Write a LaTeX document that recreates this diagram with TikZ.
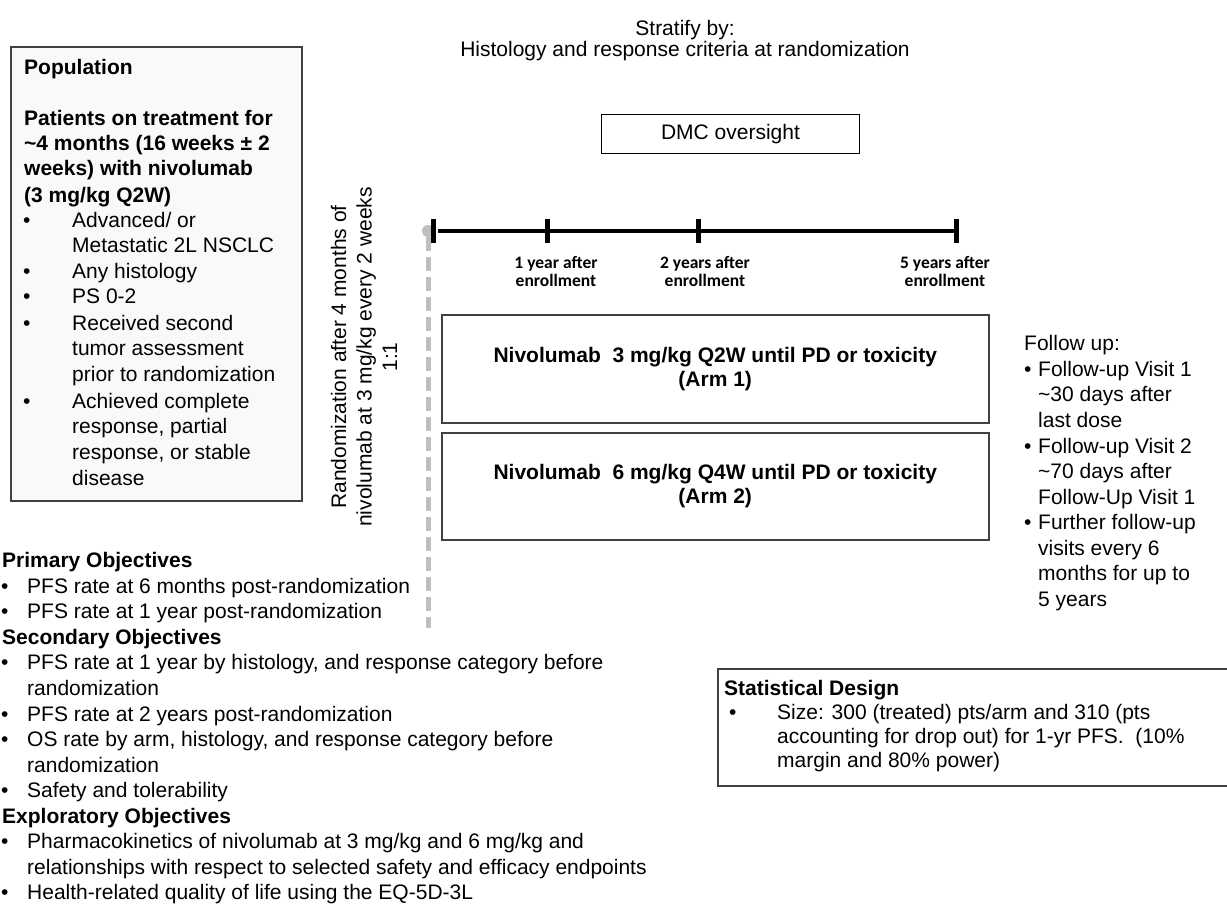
\documentclass[tikz,border=0pt]{standalone}
\usepackage{fontspec}
\setmainfont{Liberation Sans}
\newfontfamily\calfont{Carlito}
\definecolor{dashgray}{HTML}{BFBFBF}
\definecolor{boxgray}{HTML}{404040}
\definecolor{popfill}{HTML}{FAF9F7}
\begin{document}
\begin{tikzpicture}[x=1pt,y=-1pt]
\tikzset{
  t/.style={font=\fontsize{21}{25.6}\selectfont, inner sep=0pt, anchor=base west},
  tb/.style={font=\fontsize{21}{25.6}\selectfont\bfseries, inner sep=0pt, anchor=base west},
  tc/.style={font=\fontsize{21}{25.6}\selectfont, inner sep=0pt, anchor=base},
  boxline/.style={draw=boxgray, line width=1.5pt, inner sep=0pt, anchor=north west},
  ticklabel/.style={font=\calfont\bfseries\fontsize{17.5}{18}\selectfont, inner sep=0pt, align=center, anchor=north},
  tickmark/.style={line width=5pt, black},
  armtext/.style={font=\fontsize{21}{24}\selectfont\bfseries, align=center},
}
\useasboundingbox (0,0) rectangle (1227,905);
\fill[white] (0,0) rectangle (1227,905);

% Stratify
\node[tc] (strat1) at (685,35) {Stratify by:};
\node[tc] (strat2) at (685,56) {Histology and response criteria at randomization};

% DMC
\node[draw=black, line width=1pt, inner sep=0pt, anchor=north west, minimum width=258pt, minimum height=39pt, font=\fontsize{21}{25.6}\selectfont] (dmc) at (601,114) {DMC oversight};

% Population box
\node[boxline, fill=popfill, minimum width=291pt, minimum height=454pt] (popbox) at (10,46) {};
\node[tb] (pop0) at (24,74) {Population};
\node[tb] (pop1) at (24,125) {Patients on treatment for};
\node[tb] (pop2) at (24,150) {\textasciitilde4 months (16 weeks ± 2};
\node[tb] (pop3) at (24,175) {weeks) with nivolumab};
\node[tb] (pop4) at (24,202) {(3 mg/kg Q2W)};
\node[t] (pb1) at (23,227) {•};
\node[t] (pl1) at (72,227) {Advanced/ or};
\node[t] (pl2) at (72,252) {Metastatic 2L NSCLC};
\node[t] (pb3) at (23,278) {•};
\node[t] (pl3) at (72,278) {Any histology};
\node[t] (pb4) at (23,303) {•};
\node[t] (pl4) at (72,303) {PS 0-2};
\node[t] (pb5) at (23,330) {•};
\node[t] (pl5) at (72,330) {Received second};
\node[t] (pl6) at (72,355) {tumor assessment};
\node[t] (pl7) at (72,381) {prior to randomization};
\node[t] (pb8) at (23,408) {•};
\node[t] (pl8) at (72,408) {Achieved complete};
\node[t] (pl9) at (72,433) {response, partial};
\node[t] (pl10) at (72,459) {response, or stable};
\node[t] (pl11) at (72,485) {disease};

% Randomization vertical text
\node[rotate=90, align=center, inner sep=0pt, font=\fontsize{21}{25.6}\selectfont] (rand) at (364,357)
  {Randomization after 4 months of\\nivolumab at 3 mg/kg every 2 weeks\\1:1};

% dashed line with circle
\coordinate (dtop) at (428,231);
\coordinate (dbot) at (428,628);
\draw[dashgray, line width=5pt, dash pattern=on 14pt off 6pt] ([yshift=-6pt]dtop) -- (dbot);
\fill[dashgray] (dtop) circle (6pt);

% timeline
\coordinate (t0) at (433,231);
\coordinate (t1) at (547,231);
\coordinate (t2) at (698,231);
\coordinate (t5) at (956,231);
\draw[line width=4pt] ([xshift=5pt]t0) -- (t5);
\foreach \c in {t0,t1,t2,t5} {\draw[tickmark] (\c) +(0,-12) -- +(0,12);}
\node[ticklabel] (lab1) at (556,256) {1 year after\\enrollment};
\node[ticklabel] (lab2) at (705,256) {2 years after\\enrollment};
\node[ticklabel] (lab5) at (945,256) {5 years after\\enrollment};

% arms
\node[boxline, minimum width=547pt, minimum height=108pt] (arm1) at (441,314) {};
\node[armtext] (arm1t) at (arm1.center) {Nivolumab\ \ 3 mg/kg Q2W until PD or toxicity\\(Arm 1)};
\node[boxline, minimum width=547pt, minimum height=107pt] (arm2) at (441,432) {};
\node[armtext] (arm2t) at (arm2.center) {Nivolumab\ \ 6 mg/kg Q4W until PD or toxicity\\(Arm 2)};

% follow up
\node[t] (fu0) at (1024,350) {Follow up:};
\node[t] (fb1) at (1024,376) {•};
\node[t] (fl1) at (1038,376) {Follow-up Visit 1};
\node[t] (fl2) at (1038,401) {\textasciitilde30 days after};
\node[t] (fl3) at (1038,427) {last dose};
\node[t] (fb4) at (1024,453) {•};
\node[t] (fl4) at (1038,453) {Follow-up Visit 2};
\node[t] (fl5) at (1038,478) {\textasciitilde70 days after};
\node[t] (fl6) at (1038,504) {Follow-Up Visit 1};
\node[t] (fb7) at (1024,529) {•};
\node[t] (fl7) at (1038,529) {Further follow-up};
\node[t] (fl8) at (1038,555) {visits every 6};
\node[t] (fl9) at (1038,580) {months for up to};
\node[t] (fl10) at (1038,606) {5 years};

% statistical design
\node[boxline, minimum width=530pt, minimum height=117pt] (stat) at (717,668) {};
\node[tb] (st0) at (724,695) {Statistical Design};
\node[t] (sb1) at (729,719) {•};
\node[t] (sl1) at (777,719) {Size: 300 (treated) pts/arm and 310 (pts};
\node[t] (sl2) at (777,743) {accounting for drop out) for 1-yr PFS.\ \ (10\%};
\node[t] (sl3) at (777,767) {margin and 80\% power)};

% objectives
\node[tb] (ob0) at (2,567) {Primary Objectives};
\node[t] (obb1) at (1,593) {•};
\node[t] (obl1) at (27,593) {PFS rate at 6 months post-randomization};
\node[t] (obb2) at (1,618) {•};
\node[t] (obl2) at (27,618) {PFS rate at 1 year post-randomization};
\node[tb] (ob3) at (2,644) {Secondary Objectives};
\node[t] (obb4) at (1,669) {•};
\node[t] (obl4) at (27,669) {PFS rate at 1 year by histology, and response category before};
\node[t] (obl5) at (27,695) {randomization};
\node[t] (obb6) at (1,721) {•};
\node[t] (obl6) at (27,721) {PFS rate at 2 years post-randomization};
\node[t] (obb7) at (1,746) {•};
\node[t] (obl7) at (27,746) {OS rate by arm, histology, and response category before};
\node[t] (obl8) at (27,772) {randomization};
\node[t] (obb9) at (1,797) {•};
\node[t] (obl9) at (27,797) {Safety and tolerability};
\node[tb] (ob10) at (2,823) {Exploratory Objectives};
\node[t] (obb11) at (1,848) {•};
\node[t] (obl11) at (27,848) {Pharmacokinetics of nivolumab at 3 mg/kg and 6 mg/kg and};
\node[t] (obl12) at (27,874) {relationships with respect to selected safety and efficacy endpoints};
\node[t] (obb13) at (1,899) {•};
\node[t] (obl13) at (27,899) {Health-related quality of life using the EQ-5D-3L};
\end{tikzpicture}
\end{document}
